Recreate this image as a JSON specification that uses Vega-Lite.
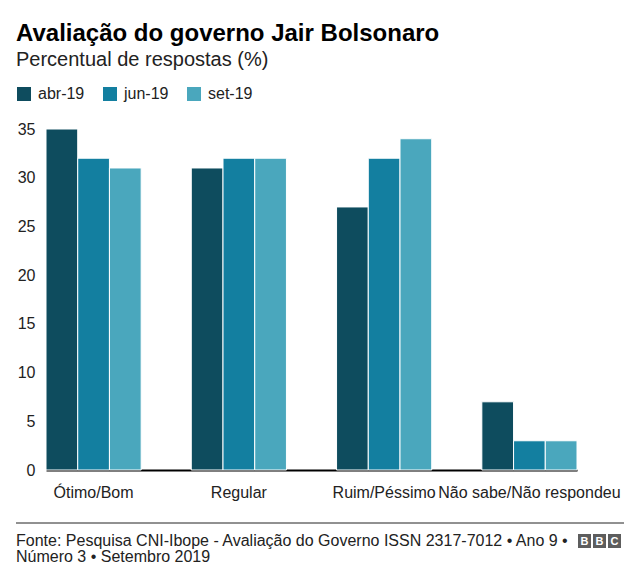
{
  "$schema": "https://vega.github.io/schema/vega-lite/v6.json",
  "width": 531,
  "height": 341,
  "autosize": {"type": "none"},
  "padding": {"left": 46, "top": 129, "right": 63, "bottom": 111},
  "background": "white",
  "config": {"view": {"stroke": null}, "font": "Liberation Sans"},
  "title": {
    "text": "Avaliação do governo Jair Bolsonaro",
    "subtitle": "Percentual de respostas (%)",
    "anchor": "start",
    "frame": "group",
    "dx": -30,
    "font": "Liberation Sans",
    "fontSize": 24,
    "fontWeight": "bold",
    "color": "#000000",
    "subtitleFont": "Liberation Sans",
    "subtitleFontSize": 20,
    "subtitleColor": "#222222",
    "subtitlePadding": 4,
    "offset": 16
  },
  "layer": [
    {
      "data": {
        "values": [
          {"categoria": "Ótimo/Bom", "periodo": "abr-19", "valor": 35},
          {"categoria": "Ótimo/Bom", "periodo": "jun-19", "valor": 32},
          {"categoria": "Ótimo/Bom", "periodo": "set-19", "valor": 31},
          {"categoria": "Regular", "periodo": "abr-19", "valor": 31},
          {"categoria": "Regular", "periodo": "jun-19", "valor": 32},
          {"categoria": "Regular", "periodo": "set-19", "valor": 32},
          {"categoria": "Ruim/Péssimo", "periodo": "abr-19", "valor": 27},
          {"categoria": "Ruim/Péssimo", "periodo": "jun-19", "valor": 32},
          {"categoria": "Ruim/Péssimo", "periodo": "set-19", "valor": 34},
          {"categoria": "Não sabe/Não respondeu", "periodo": "abr-19", "valor": 7},
          {"categoria": "Não sabe/Não respondeu", "periodo": "jun-19", "valor": 3},
          {"categoria": "Não sabe/Não respondeu", "periodo": "set-19", "valor": 3}
        ]
      },
      "mark": {"type": "bar", "stroke": "white", "strokeWidth": 1},
      "encoding": {
        "x": {
          "field": "categoria",
          "type": "nominal",
          "sort": ["Ótimo/Bom", "Regular", "Ruim/Péssimo", "Não sabe/Não respondeu"],
          "scale": {"paddingInner": 0.345, "paddingOuter": 0},
          "axis": {
            "title": null,
            "labelAngle": 0,
            "labelFontSize": 16,
            "labelColor": "#222222",
            "labelPadding": 14,
            "labelOverlap": false,
            "labelBound": false,
            "labelLimit": 0,
            "ticks": false,
            "domainColor": "#000000",
            "domainWidth": 2
          }
        },
        "xOffset": {"field": "periodo", "type": "nominal", "sort": ["abr-19", "jun-19", "set-19"]},
        "y": {
          "field": "valor",
          "type": "quantitative",
          "scale": {"domain": [0, 35]},
          "axis": {
            "title": null,
            "values": [0, 5, 10, 15, 20, 25, 30, 35],
            "grid": false,
            "domain": false,
            "ticks": false,
            "labelFontSize": 16,
            "labelColor": "#222222",
            "labelPadding": 11
          }
        },
        "color": {
          "field": "periodo",
          "type": "nominal",
          "scale": {"domain": ["abr-19", "jun-19", "set-19"], "range": ["#0e4c5e", "#137fa0", "#4aa7bd"]},
          "legend": {
            "title": null,
            "orient": "none",
            "direction": "horizontal",
            "legendX": -30,
            "legendY": -43,
            "padding": 0,
            "symbolType": "square",
            "symbolSize": 196,
            "symbolStrokeWidth": 0,
            "labelFontSize": 16,
            "labelColor": "#222222",
            "labelOffset": 6,
            "columnPadding": 17
          }
        }
      }
    },
    {
      "data": {"values": [{}]},
      "mark": {"type": "rule", "color": "#222222", "strokeWidth": 1},
      "encoding": {"x": {"value": -30}, "x2": {"value": 578}, "y": {"value": 394}}
    },
    {
      "data": {"values": [{}]},
      "mark": {"type": "text", "align": "left", "baseline": "middle", "fontSize": 16, "color": "#222222", "lineHeight": 16},
      "encoding": {
        "x": {"value": -30},
        "y": {"value": 412},
        "text": {"value": ["Fonte: Pesquisa CNI-Ibope - Avaliação do Governo ISSN 2317-7012 • Ano 9 •", "Número 3 • Setembro 2019"]}
      }
    },
    {
      "data": {"values": [{}]},
      "mark": {"type": "rect", "color": "#5d5d5d"},
      "encoding": {"x": {"value": 532}, "x2": {"value": 545}, "y": {"value": 405}, "y2": {"value": 419}}
    },
    {
      "data": {"values": [{}]},
      "mark": {"type": "rect", "color": "#5d5d5d"},
      "encoding": {"x": {"value": 547}, "x2": {"value": 560}, "y": {"value": 405}, "y2": {"value": 419}}
    },
    {
      "data": {"values": [{}]},
      "mark": {"type": "rect", "color": "#5d5d5d"},
      "encoding": {"x": {"value": 562}, "x2": {"value": 575}, "y": {"value": 405}, "y2": {"value": 419}}
    },
    {
      "data": {"values": [{}]},
      "mark": {"type": "text", "align": "center", "baseline": "middle", "fontSize": 11, "fontWeight": "bold", "color": "white"},
      "encoding": {"x": {"value": 538.5}, "y": {"value": 412.5}, "text": {"value": "B"}}
    },
    {
      "data": {"values": [{}]},
      "mark": {"type": "text", "align": "center", "baseline": "middle", "fontSize": 11, "fontWeight": "bold", "color": "white"},
      "encoding": {"x": {"value": 553.5}, "y": {"value": 412.5}, "text": {"value": "B"}}
    },
    {
      "data": {"values": [{}]},
      "mark": {"type": "text", "align": "center", "baseline": "middle", "fontSize": 11, "fontWeight": "bold", "color": "white"},
      "encoding": {"x": {"value": 568.5}, "y": {"value": 412.5}, "text": {"value": "C"}}
    }
  ]
}
